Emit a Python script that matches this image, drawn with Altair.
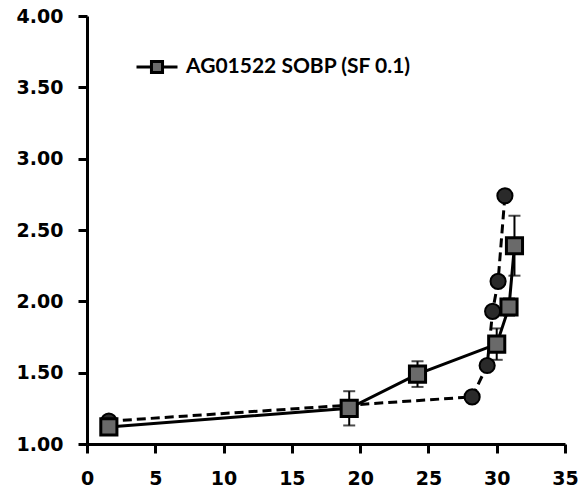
import altair as alt
import pandas as pd

# SOBP depth points (square series, with error bars)
sq_x = [1.6, 19.2, 24.2, 30.0, 30.9, 31.3]
sq_y = [1.12, 1.25, 1.49, 1.70, 1.96, 2.39]
sq_err = [0.03, 0.12, 0.09, 0.11, 0.06, 0.21]

# Companion series (filled circles, dashed line)
circ_x = [1.6, 28.2, 29.3, 29.7, 30.1, 30.6]
circ_y = [1.16, 1.33, 1.55, 1.93, 2.14, 2.74]

series_name = "AG01522 SOBP (SF 0.1)"
x_ticks = [0, 5, 10, 15, 20, 25, 30, 35]
y_ticks = [1.0, 1.5, 2.0, 2.5, 3.0, 3.5, 4.0]

sq = pd.DataFrame({
    "x": sq_x,
    "y": sq_y,
    "lo": [v - e for v, e in zip(sq_y, sq_err)],
    "hi": [v + e for v, e in zip(sq_y, sq_err)],
    "series": [series_name] * len(sq_x),
})
circ = pd.DataFrame({"x": circ_x, "y": circ_y})

X = alt.X("x:Q", scale=alt.Scale(domain=[0, 35], nice=False),
          axis=alt.Axis(values=x_ticks, title=None, format="d"))
Y = alt.Y("y:Q", scale=alt.Scale(domain=[1, 4], nice=False, zero=False),
          axis=alt.Axis(values=y_ticks, title=None, format=".2f"))

# legend glyph: short line with a small square in the middle
legend_path = ("M-1,0L-0.27,0M0.27,0L1,0"
               "M-0.27,-0.27L0.27,-0.27L0.27,0.27L-0.27,0.27Z")

dashed = alt.Chart(circ).mark_line(
    color="black", strokeWidth=3, strokeDash=[9, 5]
).encode(x=X, y=Y)

circles = alt.Chart(circ).mark_point(
    shape="circle", filled=True, fill="#2a2a2a", stroke="black",
    strokeWidth=2, size=230, opacity=1
).encode(x=X, y=Y)

solid = alt.Chart(sq).mark_line(strokeWidth=3).encode(
    x=X, y=Y,
    color=alt.Color(
        "series:N",
        scale=alt.Scale(domain=[series_name], range=["black"]),
        legend=alt.Legend(
            title=None, orient="none", legendX=48, legendY=29,
            symbolType=legend_path, symbolSize=1681,
            symbolStrokeWidth=3, symbolFillColor="#6a6a6a",
            labelFont="Lato", labelFontWeight="bold", labelFontSize=21,
            labelColor="black", labelOffset=7, labelLimit=0,
        ),
    ),
)

err_rule = alt.Chart(sq).mark_rule(color="black", strokeWidth=2).encode(
    x=X, y=alt.Y("lo:Q"), y2="hi:Q"
)
cap_lo = alt.Chart(sq).mark_tick(
    orient="horizontal", color="black", thickness=2, size=12
).encode(x=X, y=alt.Y("lo:Q"))
cap_hi = alt.Chart(sq).mark_tick(
    orient="horizontal", color="black", thickness=2, size=12
).encode(x=X, y=alt.Y("hi:Q"))

squares = alt.Chart(sq).mark_point(
    shape="square", filled=True, fill="#6a6a6a", stroke="black",
    strokeWidth=3, size=260, opacity=1
).encode(x=X, y=Y)

chart = alt.layer(
    dashed, circles, solid, err_rule, cap_lo, cap_hi, squares
).properties(
    width=478, height=428,
    autosize=alt.AutoSizeParams(type="none"),
    padding={"left": 87, "top": 16, "right": 13, "bottom": 49},
).configure_view(stroke=None).configure_axis(
    grid=False, labelFlush=False,
    domainColor="black", domainWidth=3,
    tickColor="black", tickWidth=3, tickSize=9,
    labelFont="DejaVu Sans", labelFontWeight="bold", labelFontSize=19,
    labelColor="black",
).configure_axisY(labelPadding=15).configure_axisX(labelPadding=16)

chart.save("out.html", embed_options={"renderer": "svg", "actions": False})
